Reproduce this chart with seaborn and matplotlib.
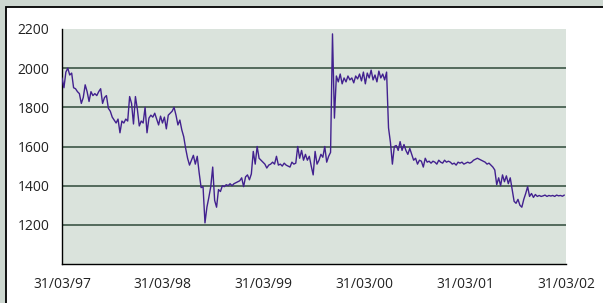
import pandas as pd
import matplotlib.pyplot as plt
import matplotlib.dates as mdates
from matplotlib.patches import Rectangle
import seaborn as sns

# weekly closing values (31/03/97 onwards)
start_date = '1997-03-31'
index_values = [
    1950, 1900, 1980, 2000, 1965, 1975, 1900, 1895, 1880, 1870,
    1820, 1850, 1915, 1880, 1830, 1880, 1860, 1870, 1860, 1880,
    1895, 1820, 1850, 1860, 1795, 1780, 1750, 1735, 1720, 1740,
    1670, 1730, 1720, 1740, 1730, 1855, 1820, 1715, 1855, 1790,
    1705, 1730, 1720, 1800, 1670, 1745, 1760, 1750, 1770, 1740,
    1710, 1755, 1720,
    1750, 1690, 1760, 1770, 1780, 1800, 1760, 1710, 1735, 1685,
    1650, 1590, 1540, 1505, 1530, 1555, 1510, 1550, 1465, 1390,
    1395, 1210, 1290, 1340, 1395, 1495, 1325, 1290, 1380, 1370,
    1400, 1395, 1405, 1400, 1410, 1400, 1410, 1415, 1420, 1425,
    1440, 1395, 1445, 1455, 1430, 1460, 1575, 1510, 1600, 1540,
    1530, 1520, 1510, 1490, 1505, 1510, 1520, 1510, 1550, 1505,
    1510, 1500, 1515, 1505, 1500, 1495, 1520, 1510, 1515, 1600,
    1540, 1580, 1530, 1560, 1530, 1550, 1500, 1455, 1575, 1510,
    1530, 1560, 1545, 1600, 1520, 1550, 1570, 2175, 1745, 1960,
    1930, 1970, 1920, 1950, 1930, 1960, 1940, 1950, 1925, 1960,
    1945, 1970, 1935, 1980, 1920, 1975, 1950, 1990, 1940, 1965,
    1930, 1985, 1950, 1970, 1940, 1980, 1695, 1620, 1510, 1600,
    1605, 1580, 1625, 1580, 1610, 1580, 1560, 1590, 1560, 1530,
    1540, 1510, 1530, 1525, 1495, 1540, 1520, 1525, 1515, 1525,
    1520, 1510, 1530, 1520, 1515, 1530, 1520, 1525, 1520, 1510,
    1515, 1505, 1520, 1515, 1520, 1510, 1515, 1520, 1515, 1520,
    1530, 1535, 1540, 1535, 1530, 1525, 1520, 1510, 1515, 1505,
    1495, 1480, 1405, 1440, 1400, 1455, 1420, 1450, 1410, 1440,
    1380, 1320, 1310, 1330, 1300, 1290, 1330, 1360, 1395, 1345,
    1360, 1340, 1355, 1345, 1350, 1345, 1348, 1352, 1345, 1350,
    1347, 1350, 1345, 1352, 1348, 1350, 1346, 1352,
]
x_ticks = ['1997-03-31', '1998-03-31', '1999-03-31', '2000-03-31', '2001-03-31', '2002-03-31']
y_ticks = [1000, 1200, 1400, 1600, 1800, 2000, 2200]

df = pd.DataFrame({
    'date': pd.date_range(start_date, periods=len(index_values), freq='7D'),
    'value': index_values,
})

sns.set_style('white')
plt.rcParams['font.family'] = ['Open Sans', 'DejaVu Sans']

fig = plt.figure(figsize=(6.03, 3.03), dpi=100)
fig.patch.set_facecolor('#cdd7d0')
# white chart panel with black top/left border
fig.patches.append(Rectangle((6 / 603, -0.1), 1.2, 1 - 7 / 303 + 0.1, transform=fig.transFigure,
                             facecolor='white', edgecolor='black', linewidth=1.3, zorder=-10))

ax = fig.add_axes([62 / 603, 1 - 264 / 303, 504 / 603, 235 / 303])
ax.set_facecolor('#dae3dc')

for v in y_ticks[1:-1]:
    ax.axhline(v, color='#2e4a3a', linewidth=1.1, zorder=1)

sns.lineplot(data=df, x='date', y='value', color='#42218f', linewidth=1.0, ax=ax, zorder=3)

ax.set_xlim(pd.Timestamp(x_ticks[0]), pd.Timestamp(x_ticks[-1]))
ax.set_ylim(1000, 2200)
ax.set_xticks([pd.Timestamp(t) for t in x_ticks])
ax.xaxis.set_major_formatter(mdates.DateFormatter('%d/%m/%y'))
ax.set_yticks(y_ticks)
ax.set_yticklabels([''] + [str(v) for v in y_ticks[1:]])
ax.set_xlabel('')
ax.set_ylabel('')

for side in ['top', 'right']:
    ax.spines[side].set_visible(False)
for side in ['left', 'bottom']:
    ax.spines[side].set_color('black')
    ax.spines[side].set_linewidth(1.0)
ax.tick_params(axis='both', direction='out', length=3, width=1, color='black',
               labelsize=10, labelcolor='#222222')
ax.tick_params(axis='y', pad=6)
ax.tick_params(axis='x', pad=6)

fig.savefig('out.png', dpi=100)
